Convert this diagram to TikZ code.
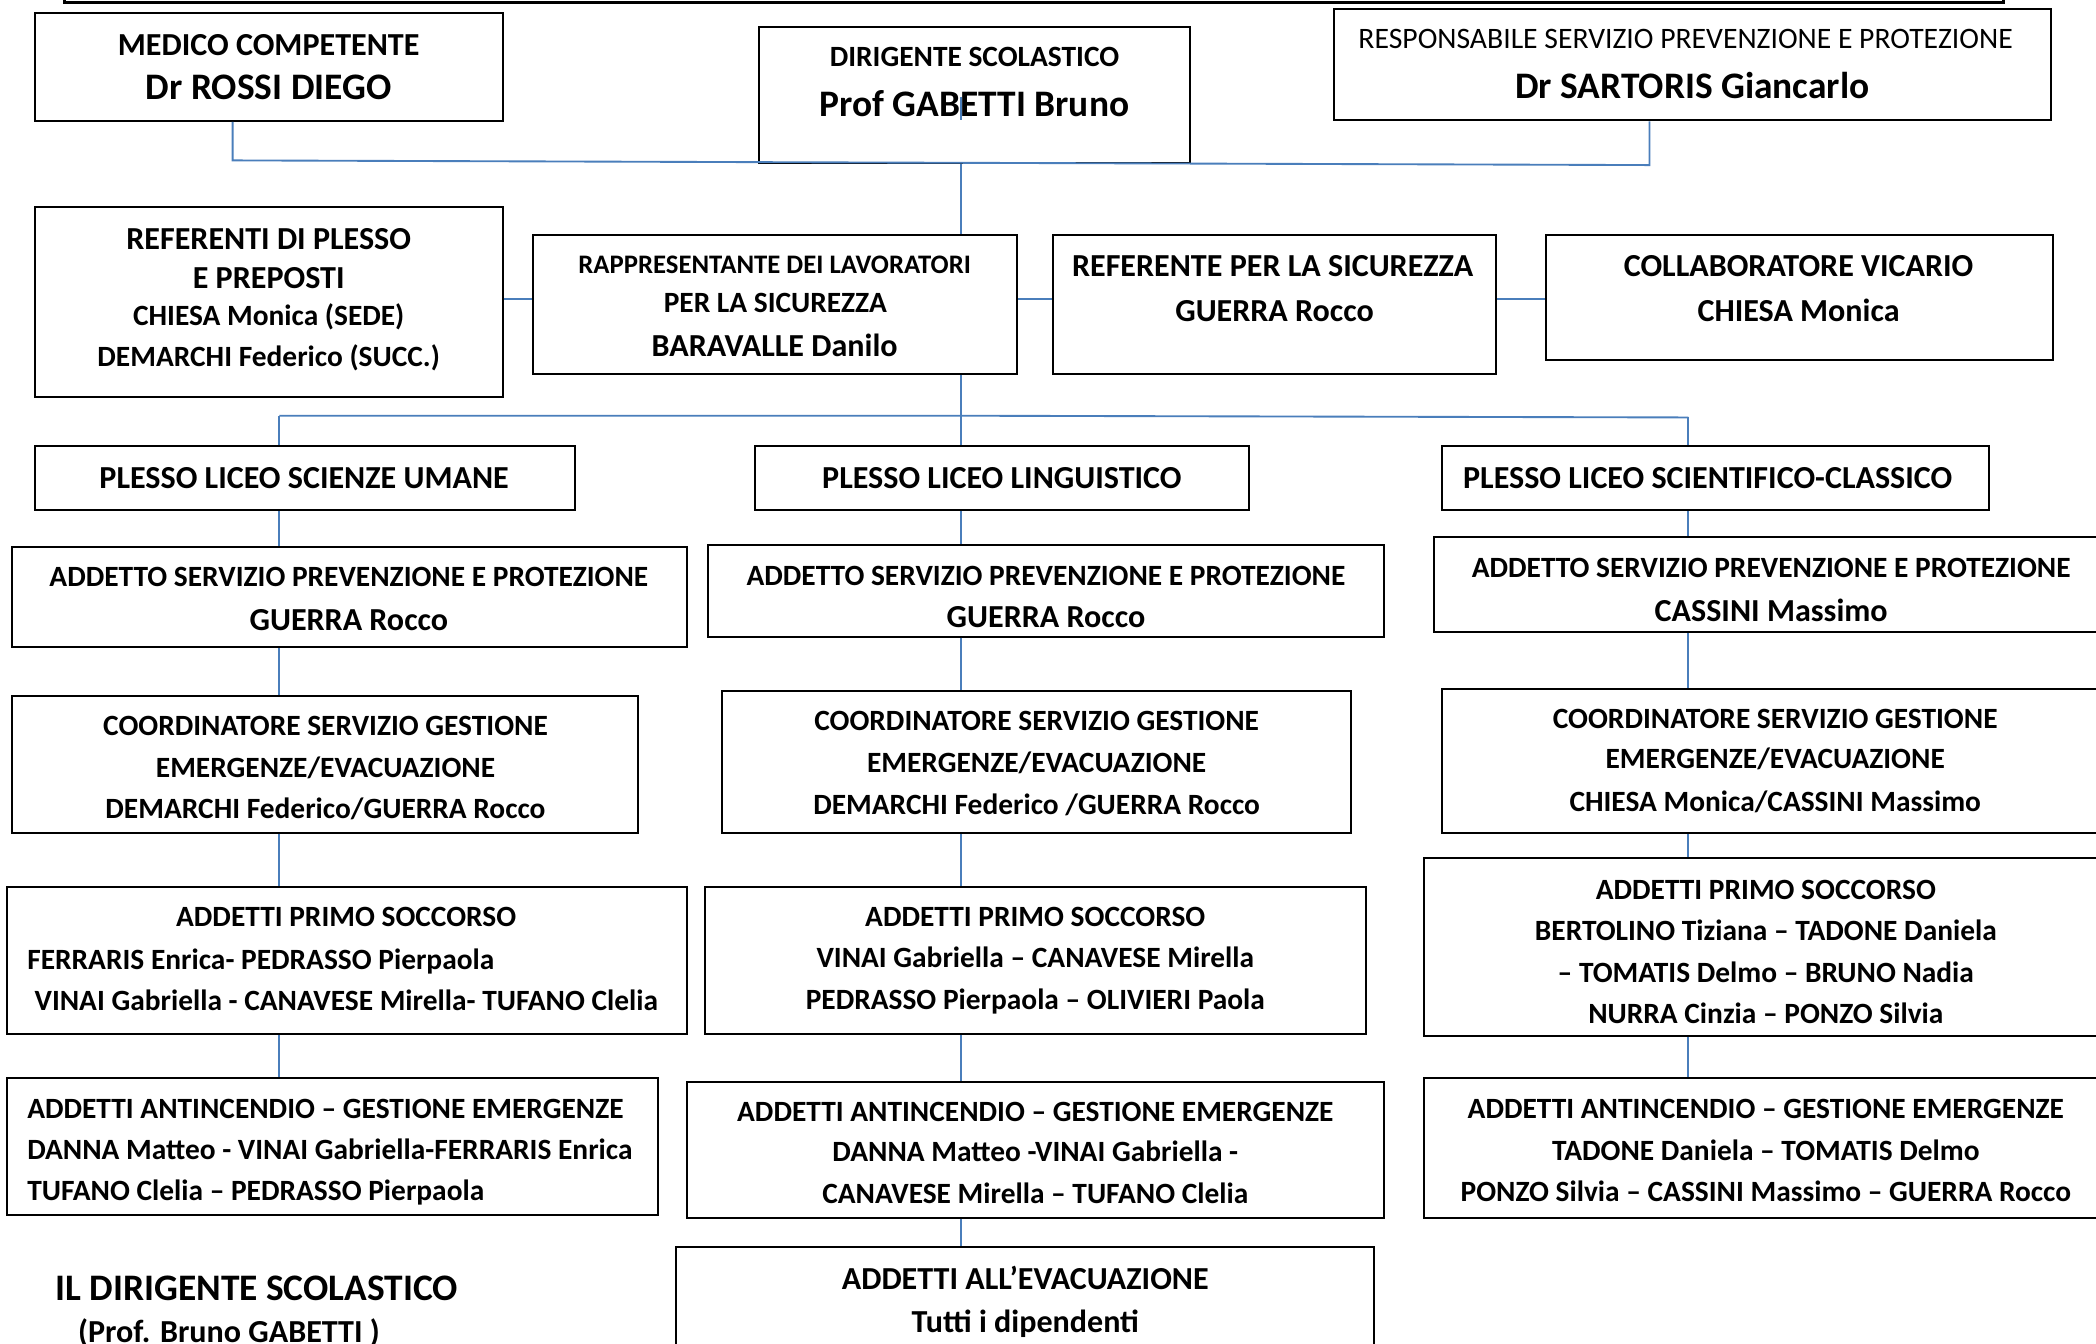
\documentclass[tikz,border=0pt]{standalone}
\usepackage{fontspec}
\setmainfont{Carlito}
\definecolor{lnblue}{RGB}{74,126,187}
\tikzset{
  box/.style={draw=black, line width=0.75pt, fill=white, inner sep=0pt, rectangle},
  conn/.style={draw=lnblue, line width=0.7pt},
  txt/.style={inner sep=0pt, anchor=base},
}
\newcommand\bxx[6][]{\node[box,#1, minimum width={(#5-(#3))*0.5pt}, minimum height={(#6-(#4))*0.5pt}] (#2) at ({(#3+#5)/2},{(#4+#6)/2}) {};}
\newcommand\txtc[5]{\node[txt, font=\fontsize{#4}{#4}\selectfont\bfseries] (#1) at (#2,{#3+0.644*#4}) {#5};}
\newcommand\txtw[5]{\node[txt, anchor=base west, font=\fontsize{#4}{#4}\selectfont\bfseries] (#1) at (#2,{#3+0.644*#4}) {#5};}
\newcommand\txtr[5]{\node[txt, font=\fontsize{#4}{#4}\selectfont] (#1) at (#2,{#3+0.644*#4}) {#5};}
\begin{document}
\begin{tikzpicture}[x=0.5pt,y=-0.5pt]
\useasboundingbox (0,0) rectangle (1568,1005);
\clip (0,0) rectangle (1568,1005);
\fill[white] (0,0) rectangle (1568,1005);

% ---- boxes ----
\bxx[line width=1.1pt]{topbox}{48.6}{-20}{1499}{2}
\bxx{med}{26}{9.5}{376}{90.5}
\bxx{dir}{567.6}{20}{890.5}{122}
\bxx{rspp}{998}{7}{1534}{90}
\bxx{refs}{26}{154.6}{376}{296.8}
\bxx{rls}{398.6}{175.8}{761}{279.8}
\bxx{refsic}{788}{175.8}{1119}{279.8}
\bxx{collab}{1156.6}{175.8}{1535.7}{269.3}
\bxx{psu}{26}{333.7}{430}{381.5}
\bxx{pling}{565}{333.7}{934}{381.5}
\bxx{psc}{1079}{333.7}{1487.6}{381.5}
\bxx{aspp1}{9}{409}{513.6}{484.3}
\bxx{aspp2}{530}{407.7}{1035.5}{476.3}
\bxx{aspp3}{1073}{402}{1577}{473}
\bxx{coord1}{9}{520.7}{477.6}{623}
\bxx{coord2}{540}{516.7}{1010.6}{623.4}
\bxx{coord3}{1079}{515.2}{1577}{623.4}
\bxx{ps1}{5}{663.3}{513.6}{773.5}
\bxx{ps2}{527.5}{663.3}{1021.6}{773.5}
\bxx{ps3}{1065}{642.1}{1577}{775}
\bxx{ai1}{5}{806.7}{492.6}{909}
\bxx{ai2}{513.6}{809.2}{1035.5}{911}
\bxx{ai3}{1065}{806.7}{1577}{911}
\bxx{evac}{506}{932.7}{1028}{1020}

% ---- connectors ----
\coordinate (jL) at (174,120);
\coordinate (jR) at (1234,123.5);
\draw[conn] (med.south -| jL) -- (jL) -- (jR) -- (rspp.south -| jR);
\coordinate (vx) at (719,0);
\coordinate (dA) at (719,72.5);
\coordinate (dB) at (719,90);
\draw[conn] (dA) -- (dB);
\draw[conn] (dir.south -| vx) -- (rls.north -| vx);
\coordinate (hr) at (0,224);
\draw[conn] (refs.east |- hr) -- (rls.west |- hr);
\draw[conn] (rls.east |- hr) -- (refsic.west |- hr);
\draw[conn] (refsic.east |- hr) -- (collab.west |- hr);
\coordinate (bus1) at (209,311);
\coordinate (bus2) at (719,311);
\coordinate (bus3) at (1263,312.3);
\draw[conn] (rls.south -| vx) -- (bus2);
\draw[conn] (bus1) -- (bus2) -- (bus3);
\draw[conn] (bus1) -- (psu.north -| bus1);
\draw[conn] (bus2) -- (pling.north -| bus2);
\draw[conn] (bus3) -- (psc.north -| bus3);
\coordinate (c1) at (209,0);
\coordinate (c2) at (719,0);
\coordinate (c3) at (1263,0);
\draw[conn] (psu.south -| c1) -- (aspp1.north -| c1);
\draw[conn] (aspp1.south -| c1) -- (coord1.north -| c1);
\draw[conn] (coord1.south -| c1) -- (ps1.north -| c1);
\draw[conn] (ps1.south -| c1) -- (ai1.north -| c1);
\draw[conn] (pling.south -| c2) -- (aspp2.north -| c2);
\draw[conn] (aspp2.south -| c2) -- (coord2.north -| c2);
\draw[conn] (coord2.south -| c2) -- (ps2.north -| c2);
\draw[conn] (ps2.south -| c2) -- (ai2.north -| c2);
\draw[conn] (ai2.south -| c2) -- (evac.north -| c2);
\draw[conn] (psc.south -| c3) -- (aspp3.north -| c3);
\draw[conn] (aspp3.south -| c3) -- (coord3.north -| c3);
\draw[conn] (coord3.south -| c3) -- (ps3.north -| c3);
\draw[conn] (ps3.south -| c3) -- (ai3.north -| c3);

% ---- texts ----
\txtc{med1}{201}{33.5}{12}{MEDICO COMPETENTE}
\txtc{med2}{201}{65.5}{14}{Dr ROSSI DIEGO}
\txtc{dir1}{729}{43}{11}{DIRIGENTE SCOLASTICO}
\txtc{dir2}{729}{78}{14}{Prof GABETTI Bruno}
\txtr{rs1}{1261}{29}{11.1}{RESPONSABILE SERVIZIO PREVENZIONE E PROTEZIONE}
\txtc{rs2}{1266}{65}{14}{Dr SARTORIS Giancarlo}
\txtc{rf1}{201}{179}{12}{REFERENTI DI PLESSO}
\txtc{rf2}{201}{208}{12}{E PREPOSTI}
\txtc{rf3}{201}{236.5}{11}{CHIESA Monica (SEDE)}
\txtc{rf4}{201}{267}{11}{DEMARCHI Federico (SUCC.)}
\txtc{rl1}{579.5}{198}{10}{RAPPRESENTANTE DEI LAVORATORI}
\txtc{rl2}{580}{226.5}{11}{PER LA SICUREZZA}
\txtc{rl3}{579.5}{259}{12}{BARAVALLE Danilo}
\txtc{rc1}{952}{199}{12}{REFERENTE PER LA SICUREZZA}
\txtc{rc2}{953.5}{233}{12}{GUERRA Rocco}
\txtc{co1}{1345.5}{199}{12}{COLLABORATORE VICARIO}
\txtc{co2}{1345.5}{233}{12}{CHIESA Monica}
\txtc{p1}{227.5}{358}{12}{PLESSO LICEO SCIENZE UMANE}
\txtc{p2}{749.5}{358}{12}{PLESSO LICEO LINGUISTICO}
\txtc{p3}{1277.5}{358}{12}{PLESSO LICEO SCIENTIFICO-CLASSICO}
\txtc{a1}{261}{431.5}{11}{ADDETTO SERVIZIO PREVENZIONE E PROTEZIONE}
\txtc{a1b}{261}{464}{12}{GUERRA Rocco}
\txtc{a2}{782.5}{431}{11}{ADDETTO SERVIZIO PREVENZIONE E PROTEZIONE}
\txtc{a2b}{782.5}{462}{12}{GUERRA Rocco}
\txtc{a3}{1325}{425}{11}{ADDETTO SERVIZIO PREVENZIONE E PROTEZIONE}
\txtc{a3b}{1325}{457}{12}{CASSINI Massimo}
\txtc{k1a}{243.5}{543.4}{11}{COORDINATORE SERVIZIO GESTIONE}
\txtc{k1b}{243.5}{574.6}{11}{EMERGENZE/EVACUAZIONE}
\txtc{k1c}{243.5}{605}{11}{DEMARCHI Federico/GUERRA Rocco}
\txtc{k2a}{775.5}{539.6}{11}{COORDINATORE SERVIZIO GESTIONE}
\txtc{k2b}{775.5}{570.8}{11}{EMERGENZE/EVACUAZIONE}
\txtc{k2c}{775.5}{602}{11}{DEMARCHI Federico /GUERRA Rocco}
\txtc{k3a}{1328}{538}{11}{COORDINATORE SERVIZIO GESTIONE}
\txtc{k3b}{1328}{568}{11}{EMERGENZE/EVACUAZIONE}
\txtc{k3c}{1328}{600}{11}{CHIESA Monica/CASSINI Massimo}
\txtc{s1a}{259}{686.3}{11}{ADDETTI PRIMO SOCCORSO}
\txtw{s1b}{20}{718}{11}{FERRARIS Enrica- PEDRASSO Pierpaola}
\txtw{s1c}{25.5}{748.6}{11}{VINAI Gabriella - CANAVESE Mirella- TUFANO Clelia}
\txtc{s2a}{774.5}{686}{11}{ADDETTI PRIMO SOCCORSO}
\txtc{s2b}{774.5}{717}{11}{VINAI Gabriella – CANAVESE Mirella}
\txtc{s2c}{774.5}{748}{11}{PEDRASSO Pierpaola – OLIVIERI Paola}
\txtc{s3a}{1321}{665.6}{11}{ADDETTI PRIMO SOCCORSO}
\txtc{s3b}{1321}{696.8}{11}{BERTOLINO Tiziana – TADONE Daniela}
\txtc{s3c}{1321}{728}{11}{– TOMATIS Delmo – BRUNO Nadia}
\txtc{s3d}{1321}{758.6}{11}{NURRA Cinzia – PONZO Silvia}
\txtw{f1a}{20}{830}{11}{ADDETTI ANTINCENDIO – GESTIONE EMERGENZE}
\txtw{f1b}{20}{860}{11}{DANNA Matteo - VINAI Gabriella-FERRARIS Enrica}
\txtw{f1c}{20}{891}{11}{TUFANO Clelia – PEDRASSO Pierpaola}
\txtc{f2a}{774.5}{832}{11}{ADDETTI ANTINCENDIO – GESTIONE EMERGENZE}
\txtc{f2b}{774.5}{862}{11}{DANNA Matteo -VINAI Gabriella -}
\txtc{f2c}{774.5}{893}{11}{CANAVESE Mirella – TUFANO Clelia}
\txtc{f3a}{1321}{830}{11}{ADDETTI ANTINCENDIO – GESTIONE EMERGENZE}
\txtc{f3b}{1321}{861}{11}{TADONE Daniela – TOMATIS Delmo}
\txtc{f3c}{1321}{892}{11}{PONZO Silvia – CASSINI Massimo – GUERRA Rocco}
\txtc{e1}{767}{956.6}{12}{ADDETTI ALL’EVACUAZIONE}
\txtc{e2}{767}{989}{12}{Tutti i dipendenti}
\txtw{g1}{41}{963.6}{14}{IL DIRIGENTE SCOLASTICO}
\txtw{g2}{58}{996.3}{12}{(Prof. Bruno GABETTI )}
\end{tikzpicture}
\end{document}
